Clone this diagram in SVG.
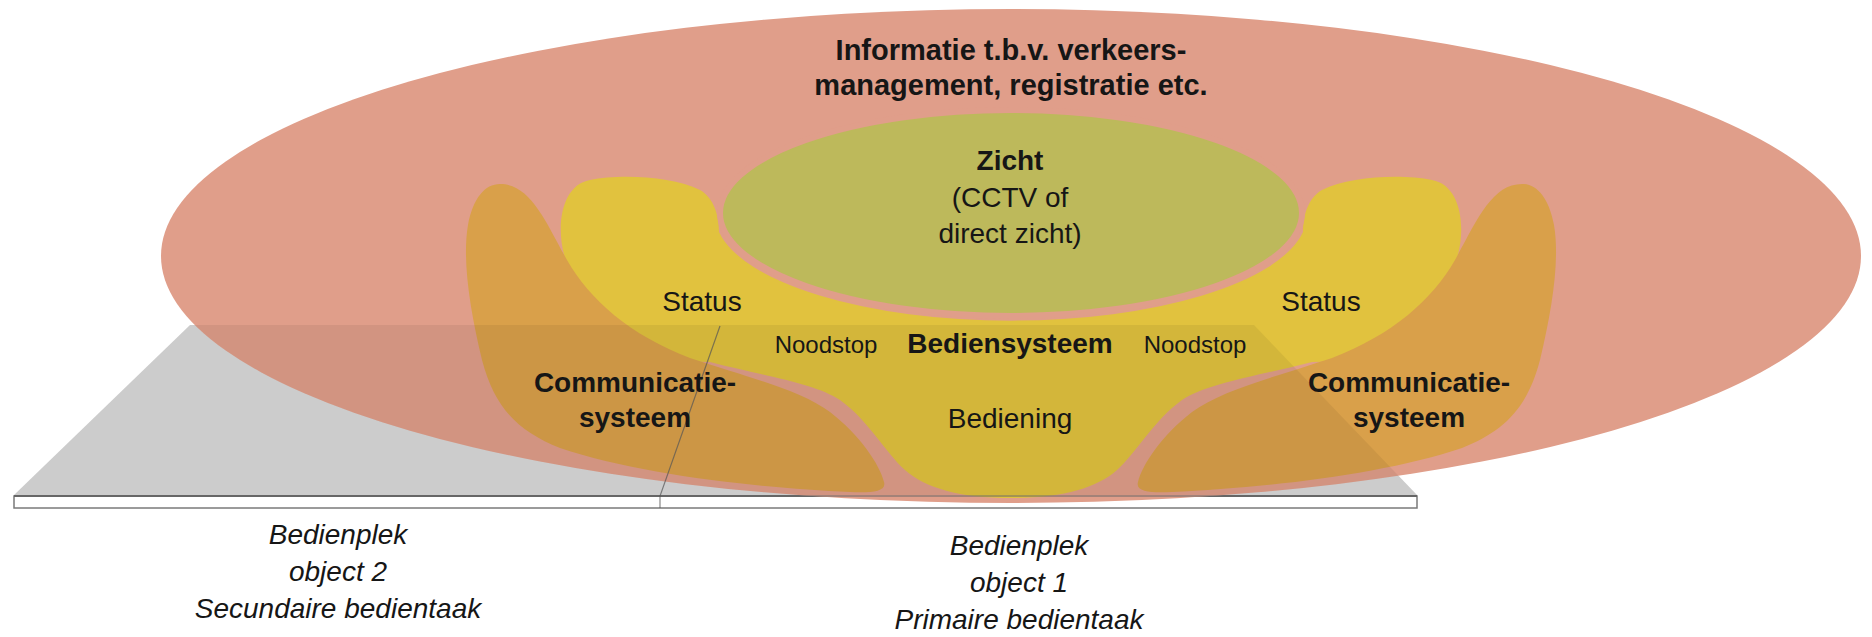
<svg xmlns="http://www.w3.org/2000/svg" width="1872" height="637" viewBox="0 0 1872 637">
<defs>
<style>
text{font-family:"Liberation Sans",Arial,sans-serif;fill:#161616;text-anchor:middle}
.b{font-weight:bold;font-size:28px}
.r{font-size:28px}
.s{font-size:24px}
.i{font-style:italic;font-size:28px}
.t{font-weight:bold;font-size:29px}
.barline{fill:none;stroke:#7a7a7a;stroke-width:1.5}
</style>
<clipPath id="ellClip"><ellipse cx="1011" cy="256" rx="850" ry="247"/></clipPath>
<path id="trap" d="M190 325 L1254 325 L1417 495 L14 495 Z"/>
<path id="commShape" d="M500 184 C530 184 545 220 567 260 C590 300 630 335 690 358 C750 378 800 390 830 412 C860 435 880 465 884 482 C887 492 870 493 850 492 C760 488 640 475 560 448 C520 432 495 410 482 360 C470 310 462 260 468 225 C473 198 485 184 500 184 Z"/>
</defs>

<g id="platform">
<use href="#trap" fill="#cccccc"/>
<rect x="14" y="496" width="1403" height="12" fill="#ffffff" class="barline"/>
<line x1="14" y1="496" x2="1417" y2="496" stroke="#666" stroke-width="2"/>
</g>

<g id="info">
<ellipse cx="1011" cy="256" rx="850" ry="247" fill="#e09e8a"/>
<text class="t" x="1011" y="60">Informatie t.b.v. verkeers-</text>
<text class="t" x="1011" y="95">management, registratie etc.</text>
</g>

<g id="bediensysteem">
<path fill="#e1c23e" d="M1011 498 C960 498 925 488 905 470 C885 452 868 420 840 400 C815 383 760 375 710 362 C660 362 600 330 572 275 C554 243 556 186 590 180 C620 174 672 176 700 190 C714 198 719 216 719 232 A296 106 0 0 0 1303 232 C1303 216 1308 198 1322 190 C1350 176 1402 174 1432 180 C1466 186 1468 243 1450 275 C1422 330 1362 362 1312 362 C1262 375 1207 383 1182 400 C1154 420 1137 452 1117 470 C1097 488 1062 498 1011 498 Z"/>
</g>

<g id="zicht">
<ellipse cx="1011" cy="213" rx="291" ry="103" fill="#bdb95b" stroke="#e09e8a" stroke-width="6"/>
<text class="b" x="1010" y="170">Zicht</text>
<text class="r" x="1010" y="207">(CCTV of</text>
<text class="r" x="1010" y="243">direct zicht)</text>
</g>

<g id="comm-left">
<use href="#commShape" fill="#d9a04a"/>
</g>
<g id="comm-right">
<use href="#commShape" fill="#d9a04a" transform="translate(2022 0) scale(-1 1)"/>
</g>

<g id="overlays">
<use href="#trap" fill="#000" fill-opacity="0.06" clip-path="url(#ellClip)"/>
<g clip-path="url(#ellClip)" opacity="0.5">
<rect x="14" y="496" width="1403" height="12" class="barline"/>
<line x1="14" y1="496" x2="1417" y2="496" stroke="#666" stroke-width="2"/>
</g>
<polyline points="660,508 660,496 720,326" fill="none" stroke="#555" stroke-width="1.2" opacity="0.7"/>
</g>

<g id="labels">
<text class="r" x="702" y="311">Status</text>
<text class="r" x="1321" y="311">Status</text>
<text class="s" x="826" y="353">Noodstop</text>
<text class="s" x="1195" y="353">Noodstop</text>
<text class="b" x="1010" y="353">Bediensysteem</text>
<text class="r" x="1010" y="428">Bediening</text>
<text class="b" x="635" y="392">Communicatie-</text>
<text class="b" x="635" y="427">systeem</text>
<text class="b" x="1409" y="392">Communicatie-</text>
<text class="b" x="1409" y="427">systeem</text>
<text class="i" x="338" y="544">Bedienplek</text>
<text class="i" x="338" y="581">object 2</text>
<text class="i" x="338" y="618">Secundaire bedientaak</text>
<text class="i" x="1019" y="555">Bedienplek</text>
<text class="i" x="1019" y="592">object 1</text>
<text class="i" x="1019" y="629">Primaire bedientaak</text>
</g>
</svg>
